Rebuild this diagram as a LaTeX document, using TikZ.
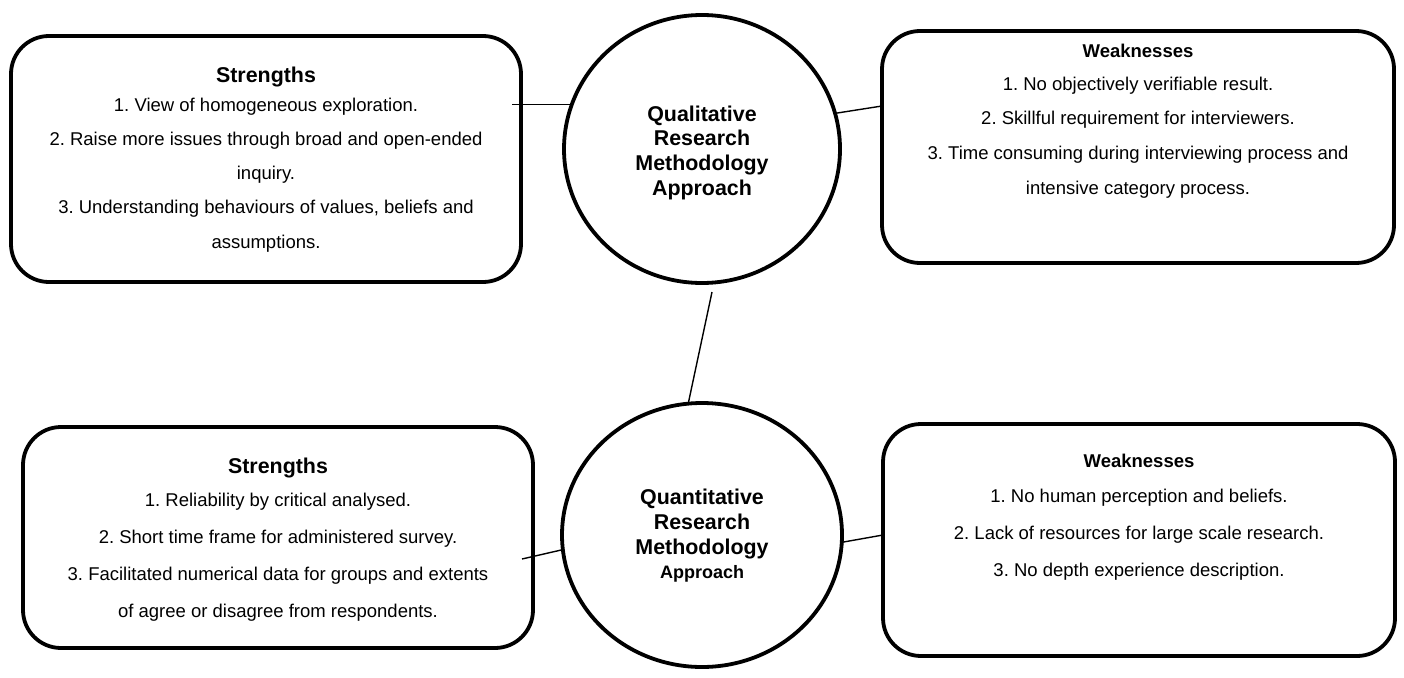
\documentclass[tikz,border=0pt]{standalone}
\usepackage{fontspec}
\setmainfont{Liberation Sans}
\usetikzlibrary{shapes.geometric}
\frenchspacing
\begin{document}
\begin{tikzpicture}[x=1pt,y=-1pt,
  box/.style={draw, line width=3.8pt, rounded corners=38pt, inner sep=0pt, outer sep=0pt},
  circ/.style={draw, ellipse, line width=3.8pt, inner sep=0pt, outer sep=0pt},
  conn/.style={line width=1.4pt},
  body/.style={inner sep=0pt, anchor=base, font=\fontsize{18.5}{22}\selectfont},
  head/.style={inner sep=0pt, anchor=base, font=\fontsize{21.4}{25}\selectfont\bfseries},
  headw/.style={inner sep=0pt, anchor=base, font=\fontsize{18.5}{22}\selectfont\bfseries},
  ctext/.style={inner sep=0pt, anchor=base, font=\fontsize{21.4}{25}\selectfont\bfseries}]
\useasboundingbox (0,0) rectangle (1404,677);
\fill[white] (0,0) rectangle (1404,677);

% boxes
\node[box, minimum width=510pt, minimum height=246pt] (tl) at (266,159) {};
\node[box, minimum width=512pt, minimum height=232pt] (tr) at (1138,147) {};
\node[box, minimum width=510pt, minimum height=221pt] (bl) at (278,537.5) {};
\node[box, minimum width=512pt, minimum height=232pt] (br) at (1139,540) {};

% circles
\node[circ, minimum width=276pt, minimum height=268pt] (qual) at (702,149) {};
\node[circ, minimum width=280pt, minimum height=264pt] (quan) at (702,535) {};

% circle texts
\node[ctext] (ql1) at (702,121) {Qualitative};
\node[ctext] (ql2) at (702,145) {Research};
\node[ctext] (ql3) at (702,170) {Methodology};
\node[ctext] (ql4) at (702,195) {Approach};
\node[ctext] (qn1) at (702,504) {Quantitative};
\node[ctext] (qn2) at (702,529) {Research};
\node[ctext] (qn3) at (702,554) {Methodology};
\node[ctext, font=\fontsize{18}{22}\selectfont\bfseries] (qn4) at (702,578) {Approach};

% top-left texts
\node[head] (tlh) at (266,82) {Strengths};
\foreach \t [count=\i] in {{1. View of homogeneous exploration.},
  {2. Raise more issues through broad and open-ended},
  {inquiry.},
  {3. Understanding behaviours of values, beliefs and},
  {assumptions.}}
  \node[body] (tlt\i) at (266,{111+34.25*(\i-1)}) {\t};

% top-right texts
\node[headw] (trh) at (1138,57) {Weaknesses};
\foreach \t [count=\i] in {{1. No objectively verifiable result.},
  {2. Skillful requirement for interviewers.},
  {3. Time consuming during interviewing process and},
  {intensive category process.}}
  \node[body] (trt\i) at (1138,{90+34.7*(\i-1)}) {\t};

% bottom-left texts
\node[head] (blh) at (278,473) {Strengths};
\foreach \t [count=\i] in {{1. Reliability by critical analysed.},
  {2. Short time frame for administered survey.},
  {3. Facilitated numerical data for groups and extents},
  {of agree or disagree from respondents.}}
  \node[body] (blt\i) at (278,{506+37*(\i-1)}) {\t};

% bottom-right texts
\node[headw] (brh) at (1139,467) {Weaknesses};
\foreach \t [count=\i] in {{1. No human perception and beliefs.},
  {2. Lack of resources for large scale research.},
  {3. No depth experience description.}}
  \node[body] (brt\i) at (1139,{502+37*(\i-1)}) {\t};

% connectors
\coordinate (tla) at ([xshift=-9pt]tl.east);
\draw[conn] (tla |- qual.161) -- (qual.161);
\draw[conn] (qual.15) -- ([yshift=41pt]tr.west);
\draw[conn] ([shift={(10pt,-9pt)}]qual.south) -- (quan.96);
\draw[conn] ([shift={(-11pt,-21.5pt)}]bl.east) -- (quan.186);
\draw[conn] (quan.357) -- ([yshift=5pt]br.west);
\end{tikzpicture}
\end{document}
